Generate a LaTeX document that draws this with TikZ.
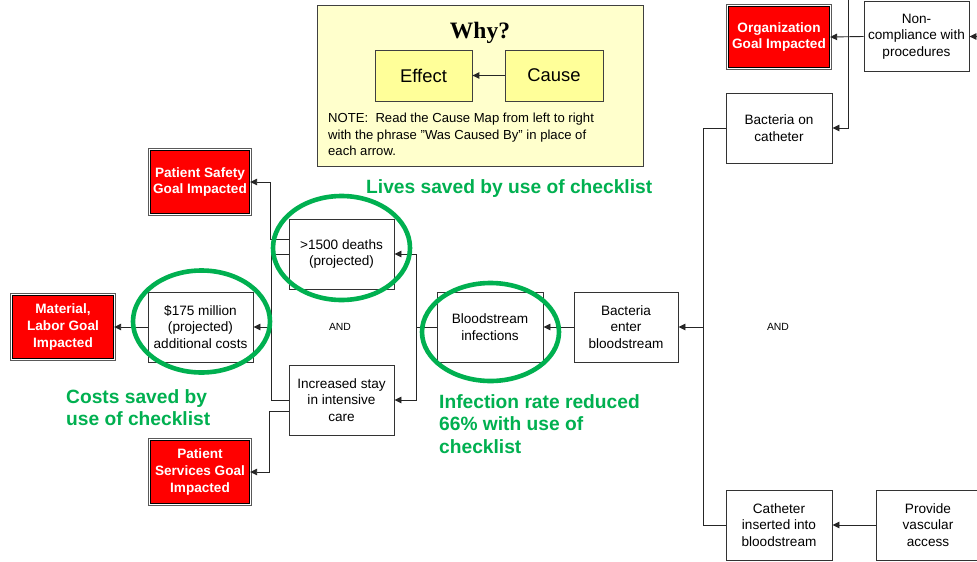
\documentclass[tikz,border=0pt]{standalone}
\usepackage{fontspec}
\setmainfont{Liberation Sans}
\newfontfamily\whyfont{Liberation Serif}
\usetikzlibrary{arrows.meta,calc}
\definecolor{hlgreen}{RGB}{0,176,80}
\definecolor{notebg}{RGB}{255,255,204}
\definecolor{keybg}{RGB}{255,255,153}
\begin{document}
\begin{tikzpicture}[x=1pt,y=-1pt,
  box/.style={draw=black!80, line width=0.9pt, fill=white, minimum width=105pt, minimum height=70pt, inner sep=1pt, align=center, font=\fontsize{13.6}{16.5}\selectfont},
  goal/.style={draw=black, line width=1.3pt, fill=red, minimum width=101pt, minimum height=63pt, inner sep=1pt, align=center, text=white, font=\bfseries\fontsize{13.6}{16.6}\selectfont},
  goalouter/.style={draw=black!65, line width=0.8pt},
  keybox/.style={draw=black!75, line width=0.8pt, fill=keybg, minimum width=97pt, minimum height=51pt, font=\fontsize{18.4}{20}\selectfont},
  conn/.style={line width=0.9pt, draw=black!85},
  arr/.style={conn, -{Triangle[length=7pt,width=6.5pt]}},
  ring/.style={draw=hlgreen, line width=4.6pt},
  note/.style={text=hlgreen, align=left, anchor=west, inner sep=0pt, font=\bfseries\fontsize{19.2}{22.2}\selectfont},
  andlabel/.style={font=\fontsize{10.4}{12}\selectfont, inner sep=0pt}]
\useasboundingbox (0,0) rectangle (977,562);
\clip (0,0) rectangle (977,562);
\fill[white] (0,0) rectangle (977,562);

% key box
\node[draw=black!75, line width=0.9pt, fill=notebg, minimum width=326pt, minimum height=161pt, inner sep=0pt] (why) at (480,85.5) {};
\node[font=\whyfont\bfseries\fontsize{23.5}{26}\selectfont, inner sep=0pt] (whyt) at (480,33) {Why?};
\node[keybox] (effect) at (423.5,75.5) {Effect};
\node[keybox, minimum width=98pt] (cause) at (554,75.5) {Cause};
\node[anchor=west, align=left, inner sep=0pt, font=\fontsize{13.1}{16.3}\selectfont] (notet) at (328,134.5) {NOTE:\ \ Read the Cause Map from left to right\\with the phrase "Was Caused By" in place of\\each arrow.};
\draw[arr] (cause.west) -- (effect.east);

% right part
\node[goal, minimum height=61pt] (org) at (779,37) {Organization\\Goal Impacted};
\node[box] (noncomp) at (916.5,36.5) {Non-\\compliance with\\procedures};
\node[box, minimum width=106pt] (bcath) at (779,128) {Bacteria on\\catheter};
\node[box, minimum width=106pt] (cins) at (779,525) {Catheter\\inserted into\\bloodstream};
\node[box, minimum width=104pt] (pva) at (928,525) {Provide\\vascular\\access};
\node[andlabel] (and2) at (778,327) {AND};
\coordinate (topin) at (848,0);
\coordinate (rightin) at (980,36.5);
\coordinate (jR) at (703,327);

% middle
\node[box, minimum width=104pt] (benter) at (626,327) {Bacteria\\enter\\bloodstream};
\node[box, minimum width=106pt] (binf) at (490,327) {Bloodstream\\infections};
\coordinate (jM) at (416,327);

% left
\node[box] (deaths) at (341.5,254) {>1500 deaths\\(projected)};
\node[box] (stay) at (341.5,400) {Increased stay\\in intensive\\care};
\node[andlabel] (and1) at (340,327) {AND};
\node[box] (cost) at (200.5,327) {\$175 million\\(projected)\\additional costs};
\node[goal] (mat) at (63,327) {Material,\\Labor Goal\\Impacted};
\node[goal, minimum width=99pt] (psafe) at (200,182) {Patient Safety\\Goal Impacted};
\node[goal, minimum width=99pt] (pserv) at (200,472) {Patient\\Services Goal\\Impacted};
\foreach \g in {org,mat,psafe,pserv}
  \draw[goalouter] ($(\g.south west)+(-1.6,1.6)$) rectangle ($(\g.north east)+(1.6,-1.6)$);

% connectors
\draw[arr] (rightin) -- (noncomp.east);
\draw[arr] (noncomp.west) -- (org.east);
\draw[arr] (topin) |- (bcath.east);
\draw[arr] (pva.west) -- (cins.east);
\draw[conn] (bcath.west) -| (jR);
\draw[conn] (cins.west) -| (jR);
\draw[arr] (jR) -- (benter.east);
\draw[arr] (benter.west) -- (binf.east);
\draw[conn] (binf.west) -- (jM);
\draw[arr] (jM) |- (deaths.east);
\draw[arr] (jM) |- (stay.east);
\draw[arr] ($(deaths.west)+(0,-15)$) -- ++(-18,0) |- (psafe.east);
\draw[conn] (deaths.west) -- ++(-17,0) coordinate (jL) |- (stay.west);
\draw[arr] (jL |- cost.east) -- (cost.east);
\draw[arr] ($(stay.west)+(0,11)$) -- ++(-19,0) |- (pserv.east);
\draw[arr] (cost.west) -- (mat.east);

% green highlights
\draw[ring] (341.5,248) ellipse [x radius=68.5, y radius=52];
\draw[ring] (201.5,321.5) ellipse [x radius=68.5, y radius=51];
\draw[ring] (490.5,332) ellipse [x radius=68.5, y radius=49];
\node[note] (lives) at (366,189) {Lives saved by use of checklist};
\node[note] (costs) at (66,408) {Costs saved by\\use of checklist};
\node[note] (infect) at (439,424) {Infection rate reduced\\66\% with use of\\checklist};
\end{tikzpicture}
\end{document}
